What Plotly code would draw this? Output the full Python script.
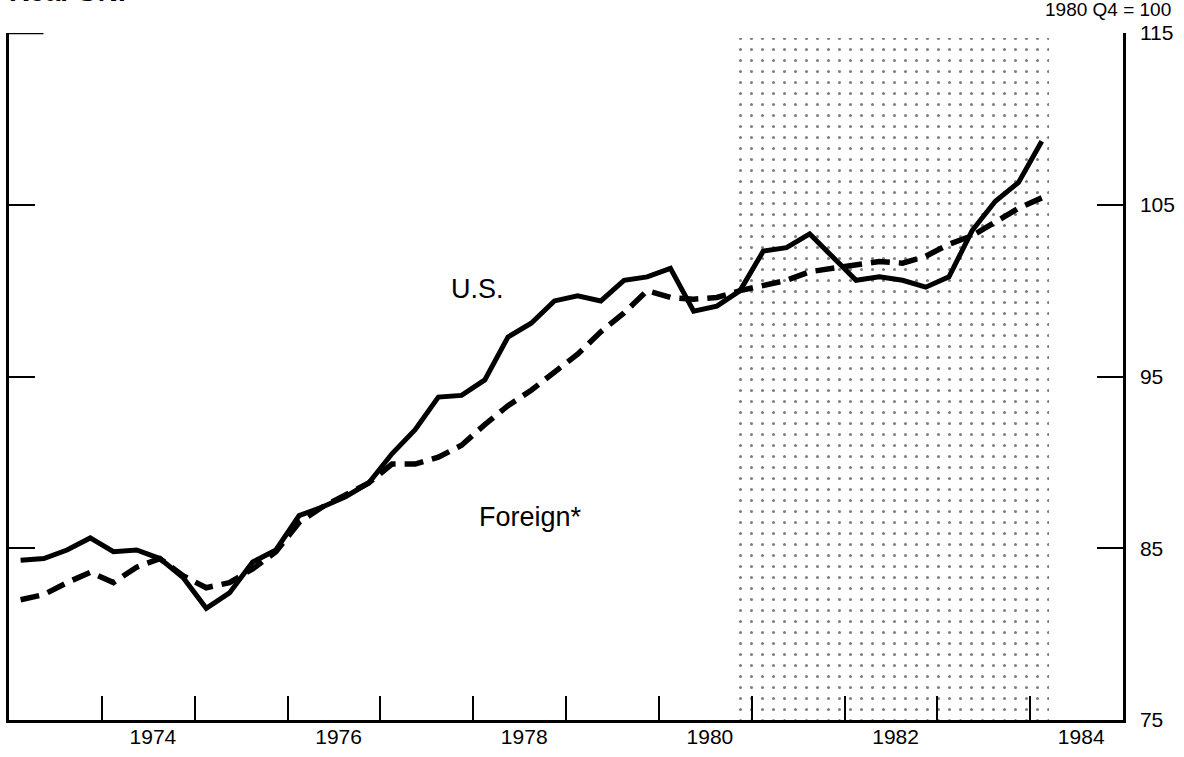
import plotly.graph_objects as go

# Quarterly real GNP, 1980 Q4 = 100, from 1973 Q1 through 1984 Q1
first_year = 1973
us_gnp = [
    84.3, 84.4, 84.9, 85.6,
    84.8, 84.9, 84.4, 83.3,
    81.5, 82.4, 84.2, 84.9,
    86.9, 87.4, 88.0, 88.8,
    90.5, 91.9, 93.8, 93.9,
    94.8, 97.3, 98.1, 99.4,
    99.7, 99.4, 100.6, 100.8,
    101.3, 98.8, 99.1, 100.0,
    102.3, 102.5, 103.3, 101.9,
    100.6, 100.8, 100.6, 100.2,
    100.8, 103.5, 105.2, 106.3,
    108.7,
]
foreign_gnp = [
    82.0, 82.3, 83.0, 83.6,
    83.0, 83.9, 84.4, 83.4,
    82.7, 83.0, 83.8, 84.8,
    86.5, 87.4, 88.1, 88.8,
    89.9, 89.9, 90.3, 91.0,
    92.2, 93.3, 94.2, 95.3,
    96.3, 97.6, 98.7, 100.0,
    99.6, 99.5, 99.6, 100.0,
    100.3, 100.6, 101.1, 101.3,
    101.5, 101.7, 101.6, 102.0,
    102.7, 103.2, 104.0, 104.8,
    105.4,
]
year_labels = ["1974", "1976", "1978", "1980", "1982", "1984"]
y_ticks = [75, 85, 95, 105, 115]
shade_start, shade_end = 1980.83, 1984.2

# quarters plotted at their mid-points
quarters = [first_year + (i + 0.5) / 4 for i in range(len(us_gnp))]

FONT = "Liberation Sans, Arial, sans-serif"

fig = go.Figure()

# dotted shading
fig.add_trace(go.Bar(
    x=[(shade_start + shade_end) / 2], y=[114.7 - 75], base=[75],
    width=[shade_end - shade_start], xaxis="x", yaxis="y",
    marker=dict(color="white", line=dict(width=0),
                pattern=dict(shape=".", fgcolor="black", bgcolor="white",
                             size=11, solidity=0.06)),
    showlegend=False, hoverinfo="skip",
))

fig.add_trace(go.Scatter(
    x=quarters, y=foreign_gnp, mode="lines", name="Foreign*",
    line=dict(color="black", width=5.5, dash="19px,9px"),
    showlegend=False,
))
fig.add_trace(go.Scatter(
    x=quarters, y=us_gnp, mode="lines", name="U.S.",
    line=dict(color="black", width=5),
    showlegend=False,
))
# dummy trace to activate the right-hand axis
fig.add_trace(go.Scatter(x=[1973], y=[75], yaxis="y2", mode="markers",
                         marker=dict(opacity=0), showlegend=False, hoverinfo="skip"))
# dummy trace for the label axis
fig.add_trace(go.Scatter(x=[1973], y=[75], xaxis="x2", mode="markers",
                         marker=dict(opacity=0), showlegend=False, hoverinfo="skip"))

fig.update_layout(
    width=1184, height=757,
    margin=dict(l=9, r=54, t=33, b=34),
    paper_bgcolor="white", plot_bgcolor="white",
    font=dict(family=FONT, color="black", size=21),
    bargap=0,
    xaxis=dict(
        range=[1973, 1985], tickvals=list(range(1974, 1985)),
        ticks="inside", ticklen=24, tickwidth=2, tickcolor="black",
        showticklabels=False, showgrid=False, zeroline=False,
        showline=True, linecolor="black", linewidth=2.5,
    ),
    xaxis2=dict(
        range=[1973, 1985], overlaying="x", side="bottom", anchor="y",
        tickvals=[int(y) + 0.55 for y in year_labels], ticktext=year_labels,
        ticks="", showgrid=False, zeroline=False, showline=False,
        tickfont=dict(size=21, family=FONT), ticklabelstandoff=2,
    ),
    yaxis=dict(
        range=[75, 115], tickvals=y_ticks[1:],
        ticks="inside", ticklen=26, tickwidth=2, tickcolor="black",
        showticklabels=False, showgrid=False, zeroline=False,
        showline=True, linecolor="black", linewidth=2.5,
    ),
    yaxis2=dict(
        range=[75, 115], tickvals=y_ticks, ticktext=[str(v) for v in y_ticks],
        overlaying="y", side="right", anchor="x",
        ticks="inside", ticklen=26, tickwidth=2, tickcolor="black",
        showgrid=False, zeroline=False,
        showline=True, linecolor="black", linewidth=2.5,
        tickfont=dict(size=21, family=FONT), ticklabelstandoff=10,
    ),
    annotations=[
        dict(text="U.S.", x=1978.05, y=100.1, xref="x", yref="y",
             showarrow=False, font=dict(size=27, family=FONT)),
        dict(text="Foreign*", x=1978.62, y=86.8, xref="x", yref="y",
             showarrow=False, font=dict(size=27, family=FONT)),
        dict(text="1980 Q4 = 100", x=1, y=1.0, xref="paper", yref="paper",
             xanchor="right", yanchor="bottom", xshift=50, yshift=11,
             showarrow=False, font=dict(size=19, family=FONT)),
        dict(text="<b>Real GNP</b>", x=0, y=1.0, xref="paper", yref="paper",
             xanchor="left", yanchor="bottom", yshift=24, xshift=-2,
             showarrow=False, font=dict(size=28, family=FONT)),
    ],
    shapes=[
        # longer top-left tick at 115
        dict(type="line", xref="paper", yref="y", x0=0, x1=0.031, y0=115, y1=115,
             line=dict(color="black", width=2.5)),
    ],
)

fig.write_html("out.html", config={"displayModeBar": False},
               post_script="document.body.style.margin='0';")
